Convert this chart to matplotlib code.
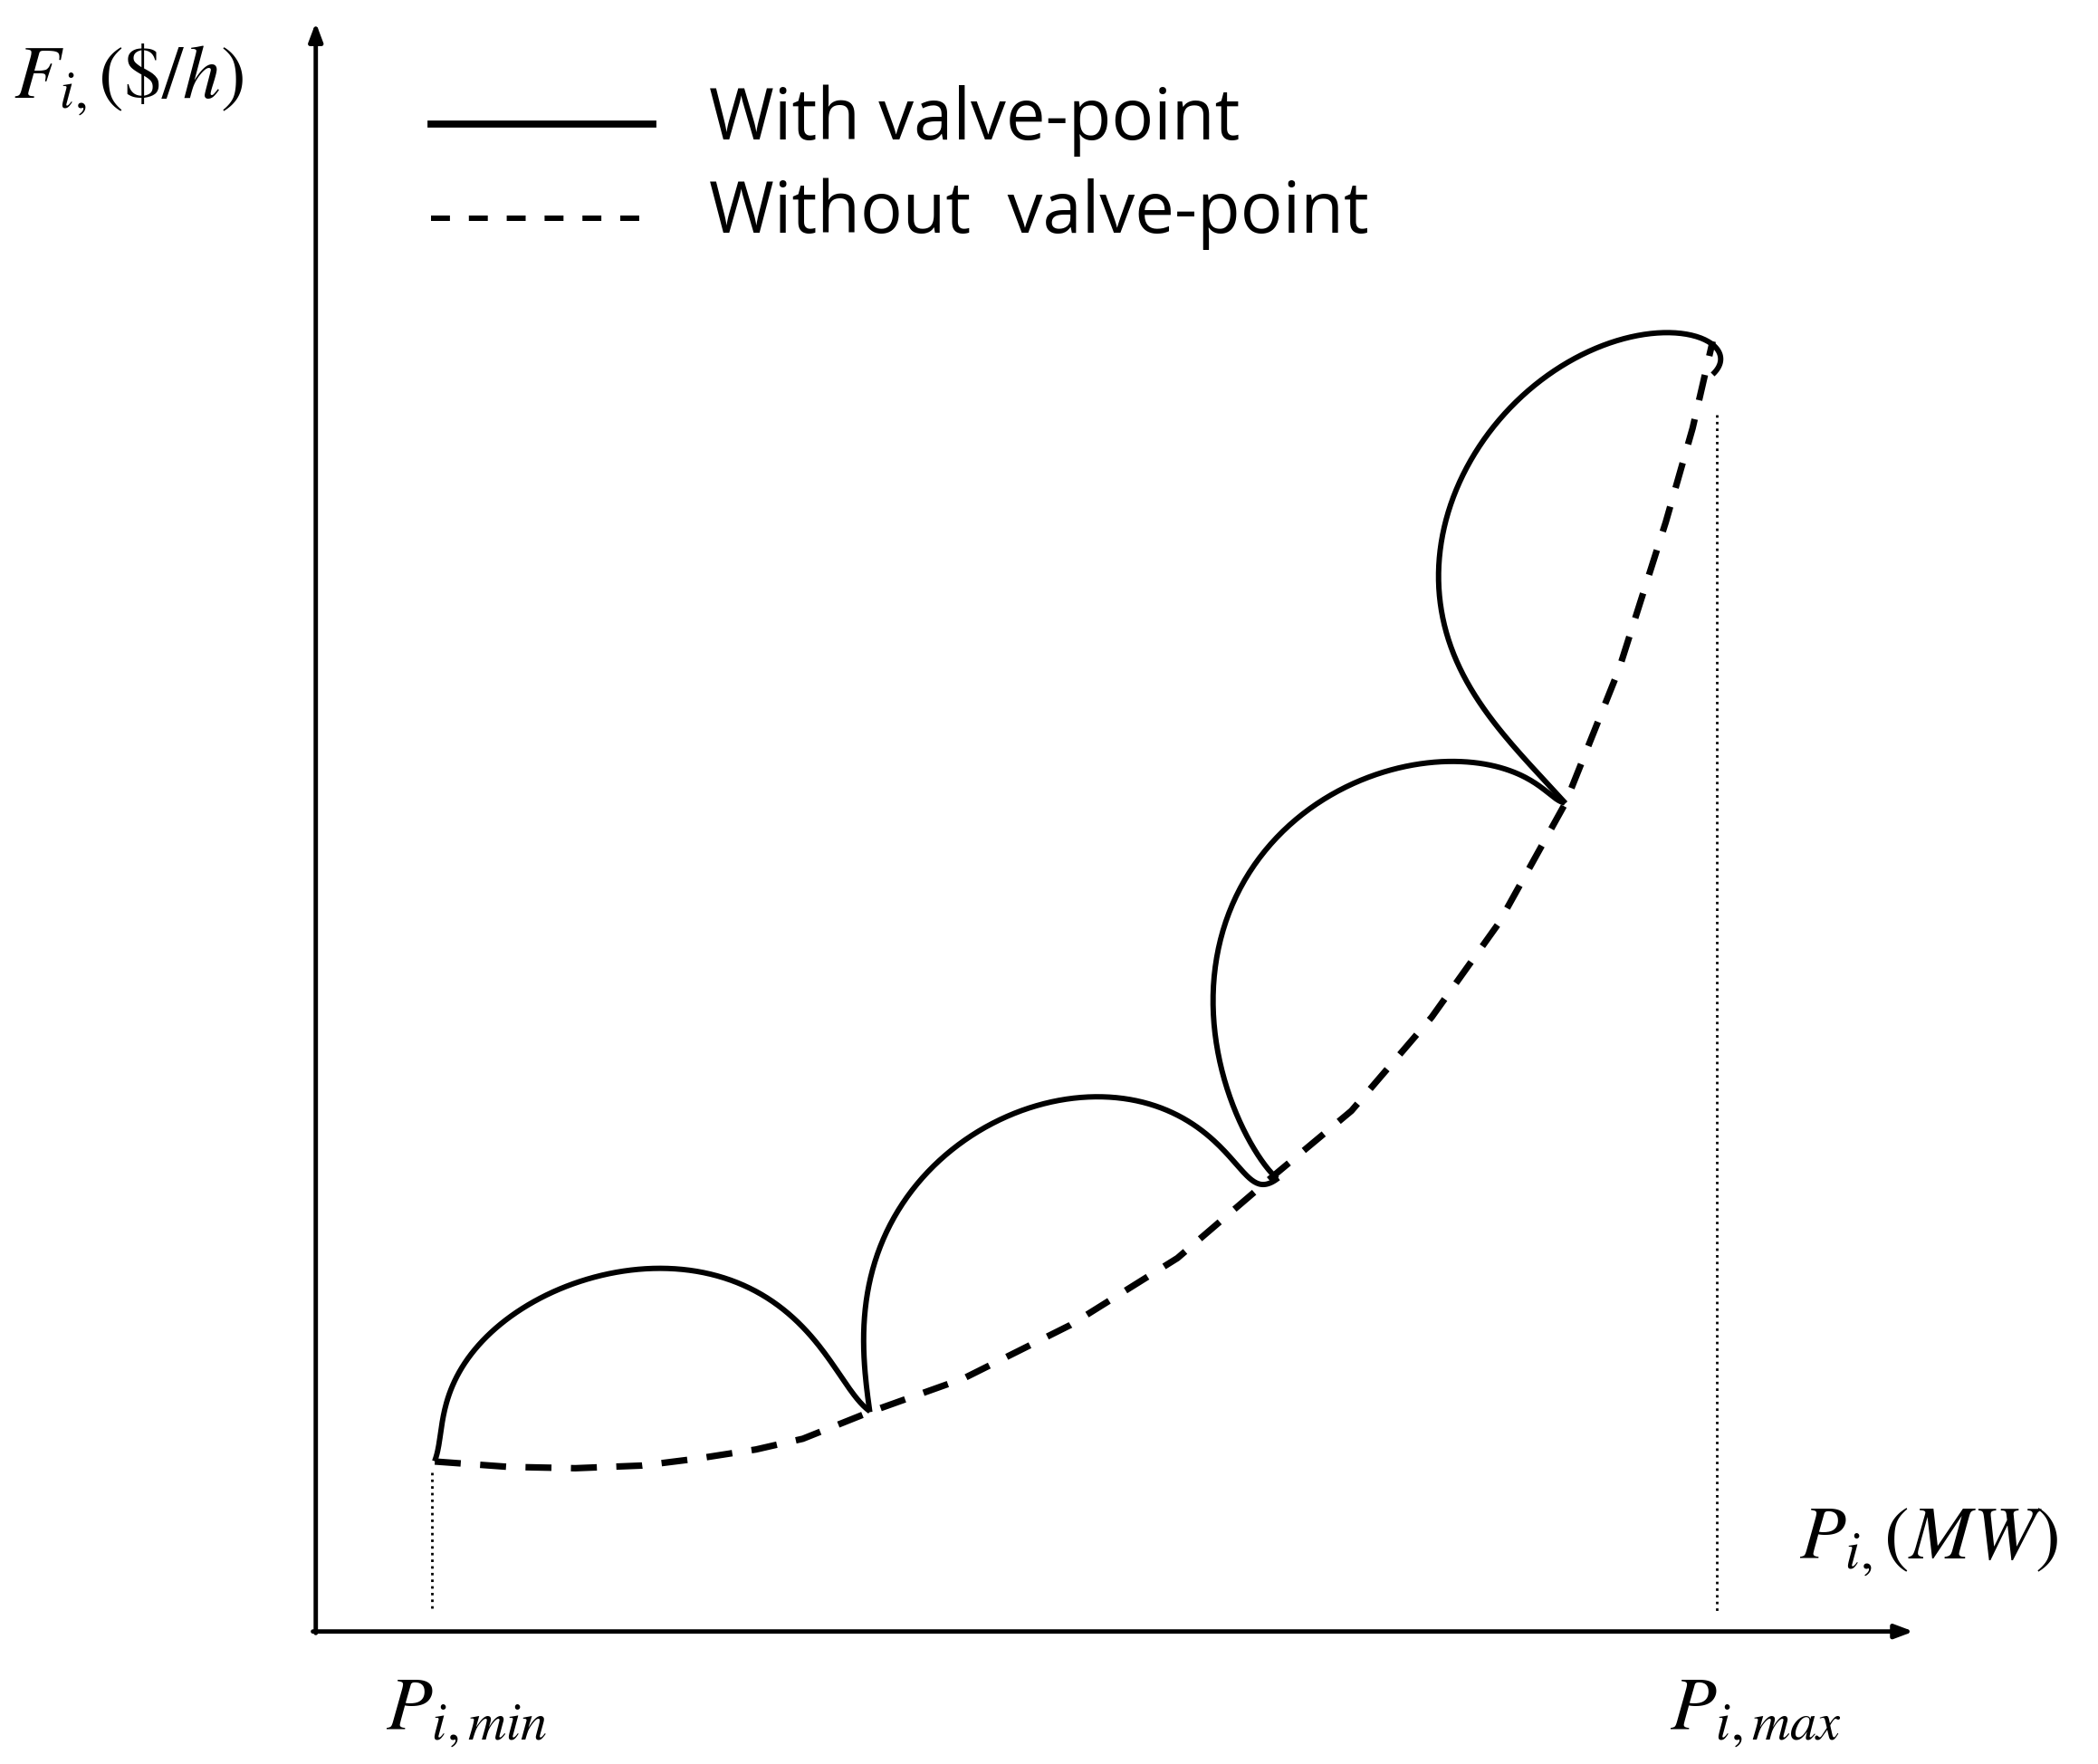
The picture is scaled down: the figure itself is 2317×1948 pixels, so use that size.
import numpy as np
import matplotlib.pyplot as plt
from matplotlib.path import Path
from matplotlib.patches import PathPatch

plt.rcParams['mathtext.fontset'] = 'stix'

# Cost curve without valve-point effect (picture coordinates)
smooth_x = [325, 380, 430, 480, 520, 565, 600, 650, 720, 800, 880, 950, 1010, 1070, 1120, 1170, 1210, 1245, 1265, 1280]
smooth_y = [1092, 1096, 1097, 1095, 1090, 1083, 1075, 1055, 1030, 990, 940, 880, 830, 760, 690, 600, 500, 390, 320, 255]

# Valve-point ripples: start, control and end points of each arc
arc1 = [(325, 1092), (330, 1060), (345, 1025), (375, 990), (420, 960), (490, 947), (540, 955), (590, 985), (625, 1020), (650, 1055)]
arc2 = [(650, 1055), (646, 990), (660, 925), (700, 870), (750, 835), (818, 818), (870, 830), (905, 852), (935, 880), (955, 880)]
arc3 = [(955, 880), (925, 840), (908, 760), (918, 690), (955, 625), (1010, 585), (1075, 567), (1125, 576), (1150, 588), (1170, 600)]
arc4 = [(1170, 600), (1120, 545), (1085, 485), (1077, 430), (1088, 365), (1125, 305), (1180, 268), (1235, 250), (1278, 255), (1280, 280)]
arcs = [arc1, arc2, arc3, arc4]

fig = plt.figure(figsize=(23.17, 19.48), dpi=100)
ax = fig.add_axes([0, 0, 1, 1])
ax.set_xlim(0, 1568)
ax.set_ylim(1318, 0)
ax.axis('off')

lw = 4.3
for a in arcs:
    xs, ys = zip(*a)
    t = np.linspace(0, 1, len(xs))
    tt = np.linspace(0, 1, 200)
    # smooth through the read points
    px = np.polyval(np.polyfit(t, xs, 5), tt)
    py = np.polyval(np.polyfit(t, ys, 5), tt)
    ax.plot(px, py, color='black', lw=lw, solid_capstyle='butt')

ax.plot(smooth_x, smooth_y, color='black', lw=lw*1.2, ls=(0, (4, 3)))

# axes arrows
ax.annotate('', xy=(236, 15), xytext=(236, 1222),
            arrowprops=dict(arrowstyle='-|>,head_length=1.2,head_width=0.45', color='black', lw=3.5))
ax.annotate('', xy=(1432, 1219), xytext=(232, 1219),
            arrowprops=dict(arrowstyle='-|>,head_length=1.2,head_width=0.45', color='black', lw=3.5))

# dotted limits
ax.plot([323, 323], [1100, 1202], color='black', lw=2, ls=':')
ax.plot([1283, 1283], [310, 1205], color='black', lw=2, ls=':')

# legend
ax.plot([322, 488], [93, 93], color='black', lw=lw*1.3)
ax.plot([322, 488], [163, 163], color='black', lw=lw, ls=(0, (3.5, 3.5)))
ax.text(530, 90, 'With valve-point', fontsize=56, va='center', family='Open Sans')
ax.text(530, 160, 'Without  valve-point', fontsize=56, va='center', family='Open Sans')

ax.text(10, 60, r'$F_{i,}(\$/h)$', fontsize=60, va='center')
ax.text(1345, 1152, r'$P_{i,}(MW)$', fontsize=60, va='center')
ax.text(288, 1280, r'$P_{i,min}$', fontsize=60, va='center')
ax.text(1248, 1280, r'$P_{i,max}$', fontsize=60, va='center')

fig.savefig('out.png', dpi=100)
